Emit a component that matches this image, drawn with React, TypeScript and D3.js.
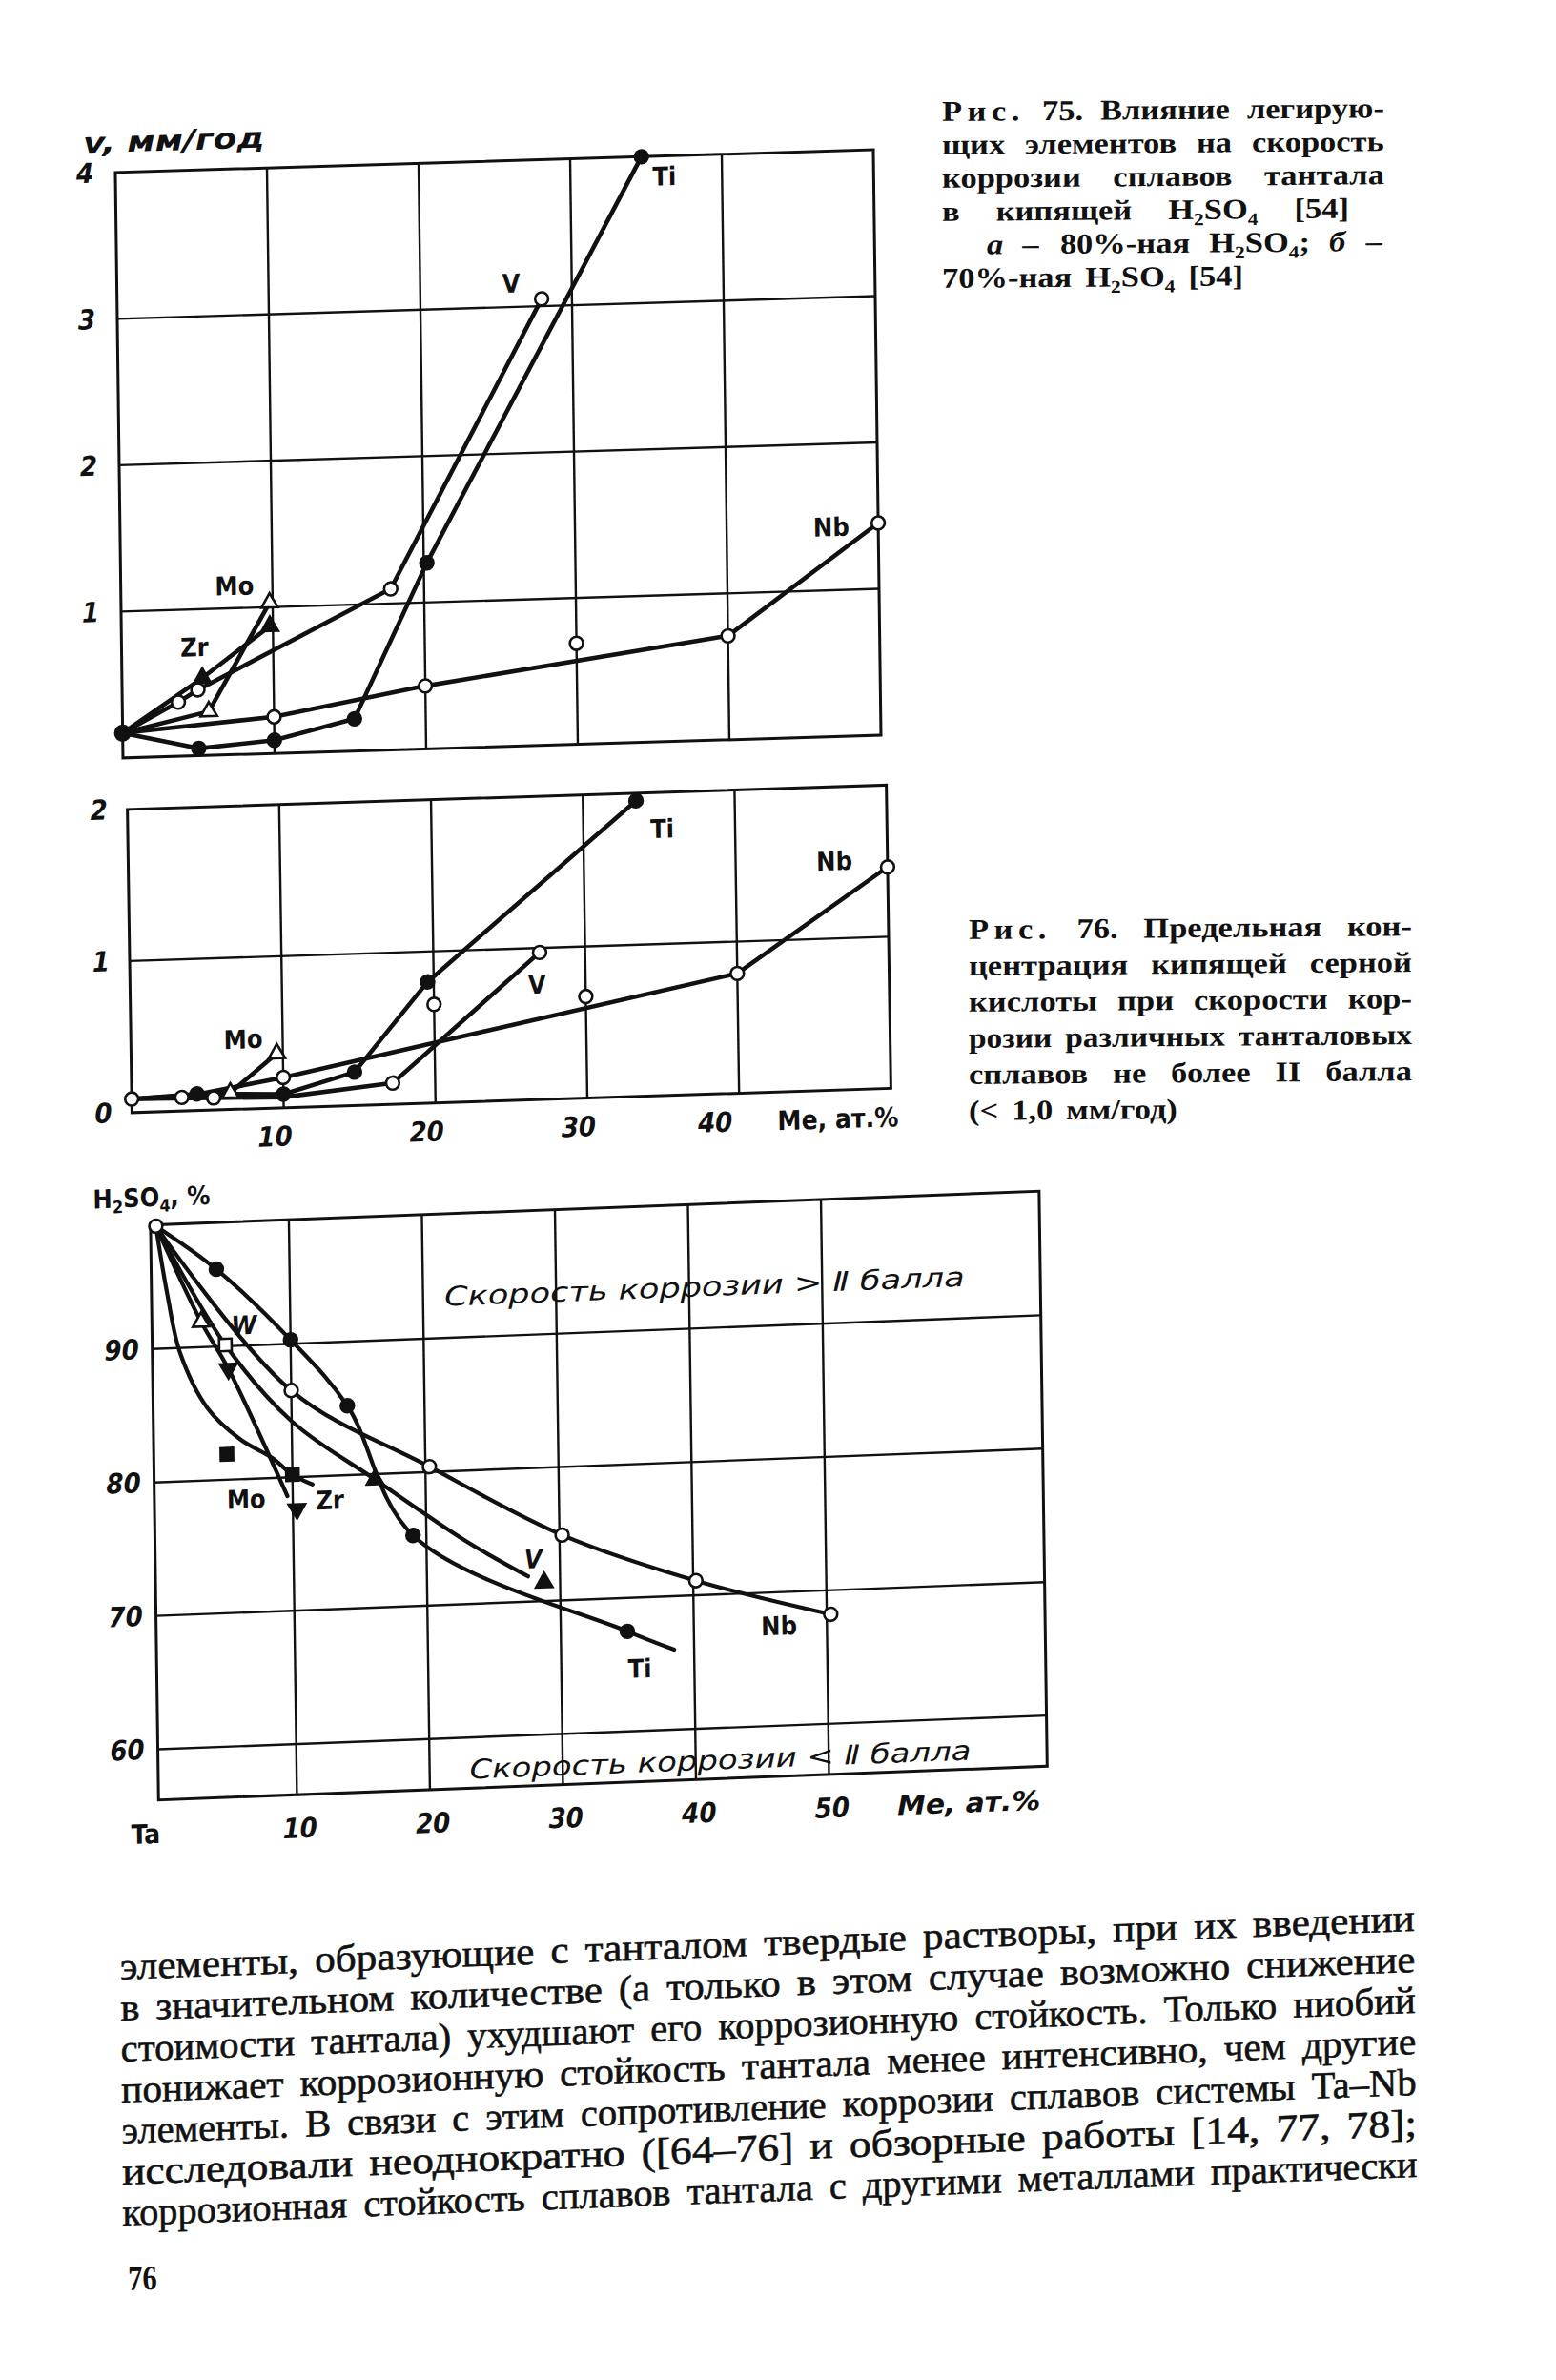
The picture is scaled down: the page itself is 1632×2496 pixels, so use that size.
import { useEffect, useRef } from "react";
import * as d3 from "d3";

type Pt = [number, number];

// Рис. 75 a — 80% H2SO4, v (мм/год) against Me (ат.%)
const aTi: Pt[] = [[0, 0.17], [5, 0.05], [10, 0.09], [15.3, 0.22], [20.2, 1.27], [34.7, 4.0]];
const aV: Pt[] = [[0, 0.17], [3.7, 0.37], [5, 0.45], [17.8, 1.1], [28, 3.05]];
const aNb: Pt[] = [[0, 0.17], [10, 0.25], [20, 0.43], [40, 0.71], [50, 1.45]];
const aNbOff: Pt[] = [[30, 0.69]];
const aMo: Pt[] = [[0, 0.17], [5.7, 0.3], [9.8, 1.03]];
const aZr: Pt[] = [[0, 0.17], [5.3, 0.53], [9.8, 0.87]];

// Рис. 75 б — 70% H2SO4
const bTi: Pt[] = [[0, 0.09], [4.3, 0.11], [10, 0.09], [14.7, 0.22], [19.6, 0.8], [33.5, 1.95]];
const bV: Pt[] = [[0, 0.09], [5.4, 0.08], [10, 0.07], [17.2, 0.14], [27, 0.97]];
const bNb: Pt[] = [[0, 0.09], [3.3, 0.09], [10, 0.2], [40, 0.79], [50, 1.46]];
const bNbOff: Pt[] = [[20, 0.65], [30, 0.67]];
const bMo: Pt[] = [[0, 0.09], [6.5, 0.11], [9.6, 0.36]];

// Рис. 76 — H2SO4 % against Me (ат.%)
const cTi: Pt[] = [[0, 99.2], [4.5, 95.8], [10, 90.3], [14.2, 85.2], [19, 75.3], [35, 67.5], [38.5, 66]];
const cNb: Pt[] = [[0, 99.2], [10, 86.5], [20.3, 80.4], [30.2, 74.9], [40.2, 71.1], [50.3, 68.2]];
const cV: Pt[] = [[0, 99.2], [5.1, 90.1], [10, 84.2], [16.2, 79.6], [23, 74.7], [27.6, 71.9]];
const cVEnd: Pt[] = [[28.8, 71.4]];
const cW: Pt[] = [[5.1, 90.1]];
const cMo: Pt[] = [[0, 99.2], [3.3, 91.9], [5.3, 88.3], [9.6, 78.6]];
const cMoEnd: Pt[] = [[10.3, 77.6]];
const cZr: Pt[] = [[0, 99.2], [0.8, 94], [1.7, 89.6], [3.7, 85.4], [6.1, 83], [8.5, 81.5], [10, 80.2], [11.5, 79.4]];
const cZrOff: Pt[] = [[5.1, 81.9]];

const yTicksA = [1, 2, 3, 4];
const yTicksB = [0, 1, 2];
const xTicksB = [10, 20, 30, 40];
const yTicksC = [60, 70, 80, 90];
const xTicksC = [10, 20, 30, 40, 50];

const caption75 = [
  "^Рис. 75. Влияние легирую-",
  "щих элементов на скорость",
  "коррозии сплавов тантала",
  "в кипящей H_2SO_4 [54]",
  "*а* – 80%-ная H_2SO_4; *б* –",
  "70%-ная H_2SO_4 [54]",
];
const caption76 = [
  "^Рис. 76. Предельная кон-",
  "центрация кипящей серной",
  "кислоты при скорости кор-",
  "розии различных танталовых",
  "сплавов не более II балла",
  "(< 1,0 мм/год)",
];
const bodyLines = [
  "элементы, образующие с танталом твердые растворы, при их введении",
  "в значительном количестве (а только в этом случае возможно снижение",
  "стоимости тантала) ухудшают его коррозионную стойкость. Только ниобий",
  "понижает коррозионную стойкость тантала менее интенсивно, чем другие",
  "элементы. В связи с этим сопротивление коррозии сплавов системы Ta–Nb",
  "исследовали неоднократно ([64–76] и обзорные работы [14, 77, 78];",
  "коррозионная стойкость сплавов тантала с другими металлами практически",
];

const HAND = "'DejaVu Sans Condensed', 'DejaVu Sans', sans-serif";
const SERIF = "'Liberation Serif', 'DejaVu Serif', serif";
const INK = "#111";

type G = d3.Selection<SVGGElement, unknown, null, undefined>;
type Mark = { pts: Pt[]; shape: string };

// the scan is sheared a little: x' = x + a(y-cy), y' = y + b(x-cx)
const shear = (a: number, b: number, cx: number, cy: number) =>
  `matrix(1,${b},${a},1,${-a * cy},${-b * cx})`;

function drawChart(
  g: G,
  x: d3.ScaleLinear<number, number>,
  y: d3.ScaleLinear<number, number>,
  xGrid: number[],
  yGrid: number[],
  lines: Pt[][],
  curve: d3.CurveFactory,
  lw: number,
  marks: Mark[]
) {
  const [x0, x1] = x.range();
  const [y1, y0] = y.range();
  g.selectAll(".gx").data(xGrid).join("line").attr("class", "gx")
    .attr("x1", (d) => x(d)).attr("x2", (d) => x(d)).attr("y1", y0).attr("y2", y1)
    .attr("stroke", INK).attr("stroke-width", 2.4);
  g.selectAll(".gy").data(yGrid).join("line").attr("class", "gy")
    .attr("x1", x0).attr("x2", x1).attr("y1", (d) => y(d)).attr("y2", (d) => y(d))
    .attr("stroke", INK).attr("stroke-width", 2.4);
  g.append("rect").attr("x", x0).attr("y", y0).attr("width", x1 - x0).attr("height", y1 - y0)
    .attr("fill", "none").attr("stroke", INK).attr("stroke-width", 3);

  const line = d3.line<Pt>().x((d) => x(d[0])).y((d) => y(d[1])).curve(curve);
  g.selectAll(".ser").data(lines).join("path").attr("class", "ser")
    .attr("d", (d) => line(d)).attr("fill", "none").attr("stroke", INK)
    .attr("stroke-width", lw).attr("stroke-linejoin", "round").attr("stroke-linecap", "round");

  marks.forEach((m) => {
    const type = m.shape.startsWith("tri") ? d3.symbolTriangle : m.shape.startsWith("sq") ? d3.symbolSquare : d3.symbolCircle;
    const size = m.shape.startsWith("tri") ? 130 : m.shape.startsWith("sq") ? 170 : m.shape === "big" ? 190 : 150;
    const full = ["dot", "big", "triFill", "triDownFill", "sqFill"].includes(m.shape);
    g.append("g").selectAll("path").data(m.pts).join("path")
      .attr("d", d3.symbol().type(type).size(size)())
      .attr("transform", (d) => `translate(${x(d[0])},${y(d[1])})${m.shape === "triDownFill" ? " rotate(180)" : ""}`)
      .attr("fill", full ? INK : "#fff").attr("stroke", INK).attr("stroke-width", 2.6);
  });
}

function label(
  g: G, txt: string, x: number, y: number,
  o: { size?: number; anchor?: string; italic?: boolean; bold?: boolean; len?: number } = {}
) {
  const t = g.append("text").attr("x", x).attr("y", y).text(txt)
    .attr("font-family", HAND).attr("font-size", o.size ?? 27)
    .attr("text-anchor", o.anchor ?? "middle")
    .attr("font-style", o.italic ? "italic" : "normal")
    .attr("font-weight", o.bold === false ? "normal" : "bold").attr("fill", INK);
  if (o.len) t.attr("textLength", o.len).attr("lengthAdjust", "spacingAndGlyphs");
  return t;
}

type TextStyle = { size: number; weight: string; squeeze: number; maxSqueeze: number; gap: number; stroke?: number };

// one printed line; justified between x0 and x1 when x1 is given
function wordLine(parent: G, line: string, x0: number, x1: number | null, y: number, st: TextStyle) {
  const words = line.split(" ");
  const items = words.map((raw) => {
    let w = raw;
    const t = parent.append("text").attr("x", 0).attr("y", y)
      .attr("font-family", SERIF).attr("font-size", st.size)
      .attr("font-weight", st.weight).attr("fill", INK);
    if (st.stroke) t.attr("stroke", INK).attr("stroke-width", st.stroke);
    if (w.startsWith("^")) { w = w.slice(1); t.attr("letter-spacing", st.size * 0.16); }
    if (w.startsWith("*")) { w = w.replace(/\*/g, ""); t.attr("font-style", "italic"); }
    const parts = w.split(/(_\d)/).filter((p) => p.length);
    const drop = st.size * 0.22;
    let low = false;
    parts.forEach((p) => {
      if (p.startsWith("_")) {
        t.append("tspan").attr("font-size", st.size * 0.62).attr("dy", low ? 0 : drop).text(p.slice(1));
        low = true;
      } else {
        t.append("tspan").attr("dy", low ? -drop : 0).text(p);
        low = false;
      }
    });
    const wd = (t.node() as SVGTextElement).getBBox().width;
    return { t, wd };
  });
  const natural = d3.sum(items, (d) => d.wd);
  const n = items.length;
  let sq = st.squeeze;
  let gap = st.gap;
  if (x1 !== null && n > 1) {
    sq = Math.min(st.maxSqueeze, (x1 - x0 - (n - 1) * st.gap) / natural);
    gap = (x1 - x0 - sq * natural) / (n - 1);
  }
  let cur = x0;
  items.forEach((it) => {
    it.t.attr("transform", `translate(${cur},0) scale(${sq},1)`);
    cur += it.wd * sq + gap;
  });
}

export default function App() {
  const ref = useRef<SVGSVGElement | null>(null);

  useEffect(() => {
    if (!ref.current) return;
    const svg = d3.select(ref.current);
    svg.selectAll("*").remove();
    svg.append("rect").attr("width", 1632).attr("height", 2496).attr("fill", "#fff");

    // ---------- chart a ----------
    const xA = d3.scaleLinear().domain([0, 50]).range([125, 920]);
    const yA = d3.scaleLinear().domain([0, 4]).range([783, 169]);
    const gA = svg.append("g").attr("transform", shear(0.013, -0.03, 522, 477)) as G;
    drawChart(gA, xA, yA, [10, 20, 30, 40], [1, 2, 3], [aNb, aV, aTi, aMo, aZr], d3.curveLinear, 4.6, [
      { pts: aTi.slice(1), shape: "dot" },
      { pts: aV.slice(1), shape: "ring" },
      { pts: [...aNb.slice(1), ...aNbOff], shape: "ring" },
      { pts: aMo.slice(1), shape: "tri" },
      { pts: aZr.slice(1), shape: "triFill" },
      { pts: aTi.slice(0, 1), shape: "big" },
    ]);
    yTicksA.forEach((v) => label(gA, String(v), xA(0) - 32, yA(v) + 10, { italic: true, size: 29 }));
    label(gA, "v, мм/год", xA(-2.1), yA(4.14), { italic: true, anchor: "start", size: 30, len: 190 });
    label(gA, "Ti", xA(36.2), yA(3.8));
    label(gA, "V", xA(26), yA(3.1));
    label(gA, "Nb", xA(46.9), yA(1.37));
    label(gA, "Mo", xA(7.5), yA(1.09));
    label(gA, "Zr", xA(4.8), yA(0.68));

    // ---------- chart б ----------
    const xB = d3.scaleLinear().domain([0, 50]).range([136, 932]);
    const yB = d3.scaleLinear().domain([0, 2]).range([1154, 836]);
    const gB = svg.append("g").attr("transform", shear(0.015, -0.032, 538, 995)) as G;
    drawChart(gB, xB, yB, xTicksB, [1], [bNb, bV, bTi, bMo], d3.curveLinear, 4.6, [
      { pts: bTi.slice(1), shape: "dot" },
      { pts: [bV[1], bV[3], bV[4]], shape: "ring" },
      { pts: [...bNb, ...bNbOff], shape: "ring" },
      { pts: bMo.slice(1), shape: "tri" },
    ]);
    yTicksB.forEach((v) => label(gB, String(v), xB(0) - 30, yB(v) + 10, { italic: true, size: 29 }));
    xTicksB.forEach((v) => label(gB, String(v), xB(v === 40 ? v - 1.6 : v - 0.6), yB(0) + 40, { italic: true, size: 29 }));
    label(gB, "Me, ат.%", xB(42.5), yB(0) + 40, { anchor: "start", size: 28 });
    label(gB, "Ti", xB(35.2), yB(1.7));
    label(gB, "Nb", xB(46.5), yB(1.45));
    label(gB, "V", xB(26.8), yB(0.7));
    label(gB, "Mo", xB(7.4), yB(0.4));

    // ---------- Рис. 76 ----------
    const xC = d3.scaleLinear().domain([-0.4, 66.4]).range([162, 1094]);
    const yC = d3.scaleLinear().domain([56.2, 99.3]).range([1870, 1267]);
    const gC = svg.append("g").attr("transform", shear(0.014, -0.038, 628, 1563)) as G;
    drawChart(gC, xC, yC, xTicksC, yTicksC, [cNb, cV, cTi, cMo, cZr], d3.curveCatmullRom.alpha(0.5), 4.2, [
      { pts: cTi.slice(1, 6), shape: "dot" },
      { pts: cNb.slice(1), shape: "ring" },
      { pts: [cV[3], ...cVEnd], shape: "triFill" },
      { pts: cW, shape: "sq" },
      { pts: [cMo[1]], shape: "tri" },
      { pts: [cMo[2], ...cMoEnd], shape: "triDownFill" },
      { pts: [cZr[6], ...cZrOff], shape: "sqFill" },
      { pts: cTi.slice(0, 1), shape: "ring" },
    ]);
    const xLabY = yC(56.9) + 55;
    yTicksC.forEach((v) => label(gC, String(v), xC(-2.7), yC(v) + 10, { italic: true, size: 29 }));
    xTicksC.forEach((v) => label(gC, String(v), xC(v + 0.2), xLabY, { italic: true, size: 29 }));
    label(gC, "Ta", xC(-1.4), xLabY, { size: 28 });
    label(gC, "Me, ат.%", xC(55.1), xLabY, { anchor: "start", italic: true, size: 28, len: 150 });
    const h2so4 = label(gC, "H", xC(-4.7), yC(100.7), { anchor: "start", size: 27 });
    h2so4.append("tspan").attr("font-size", 18).attr("dy", 6).text("2");
    h2so4.append("tspan").attr("dy", -6).text("SO");
    h2so4.append("tspan").attr("font-size", 18).attr("dy", 6).text("4");
    h2so4.append("tspan").attr("dy", -6).text(", %");
    label(gC, "Скорость коррозии > Ⅱ балла", xC(21.6), yC(92.4),
      { anchor: "start", italic: true, bold: false, size: 28, len: xC(60.7) - xC(21.6) });
    label(gC, "Скорость коррозии < Ⅱ балла", xC(23), yC(56.9),
      { anchor: "start", italic: true, bold: false, size: 28, len: xC(60.7) - xC(23) });
    label(gC, "W", xC(6.5), yC(90.85), { italic: true });
    label(gC, "Mo", xC(6.5), yC(77.8));
    label(gC, "Zr", xC(12.8), yC(77.5));
    label(gC, "V", xC(28), yC(72.5), { italic: true });
    label(gC, "Nb", xC(46.4), yC(66.8));
    label(gC, "Ti", xC(35.9), yC(64));

    // ---------- captions ----------
    const capStyle: TextStyle = { size: 30, weight: "bold", squeeze: 1.15, maxSqueeze: 1.15, gap: 14 };
    const gCap1 = svg.append("g").attr("transform", shear(0, -0.008, 1220, 200)) as G;
    caption75.forEach((ln, i) => {
      const x0 = i === 4 ? 1035 : 988;
      const x1 = i === 5 ? null : i === 3 ? 1415 : 1452;
      wordLine(gCap1, ln, x0, x1, 125 + i * 35, capStyle);
    });
    const gCap2 = svg.append("g").attr("transform", shear(0, -0.008, 1250, 1070)) as G;
    caption76.forEach((ln, i) => {
      wordLine(gCap2, ln, 1016, i === 5 ? null : 1481, 983 + i * 38, capStyle);
    });

    // ---------- body text ----------
    const bodyStyle: TextStyle = { size: 40, weight: "normal", squeeze: 0.85, maxSqueeze: 1.2, gap: 17, stroke: 0.6 };
    const gBody = svg.append("g").attr("transform", shear(0.01, -0.0376, 126, 2076)) as G;
    bodyLines.forEach((ln, i) => wordLine(gBody, ln, 126, 1484, 2076 + i * 43, bodyStyle));
    wordLine(gBody, "76", 131, null, 2402, { size: 36, weight: "bold", squeeze: 0.85, maxSqueeze: 1, gap: 10 });
  }, []);

  return (
    <svg
      ref={ref}
      width={1632}
      height={2496}
      style={{ position: "absolute", left: 0, top: 0, display: "block" }}
    />
  );
}
